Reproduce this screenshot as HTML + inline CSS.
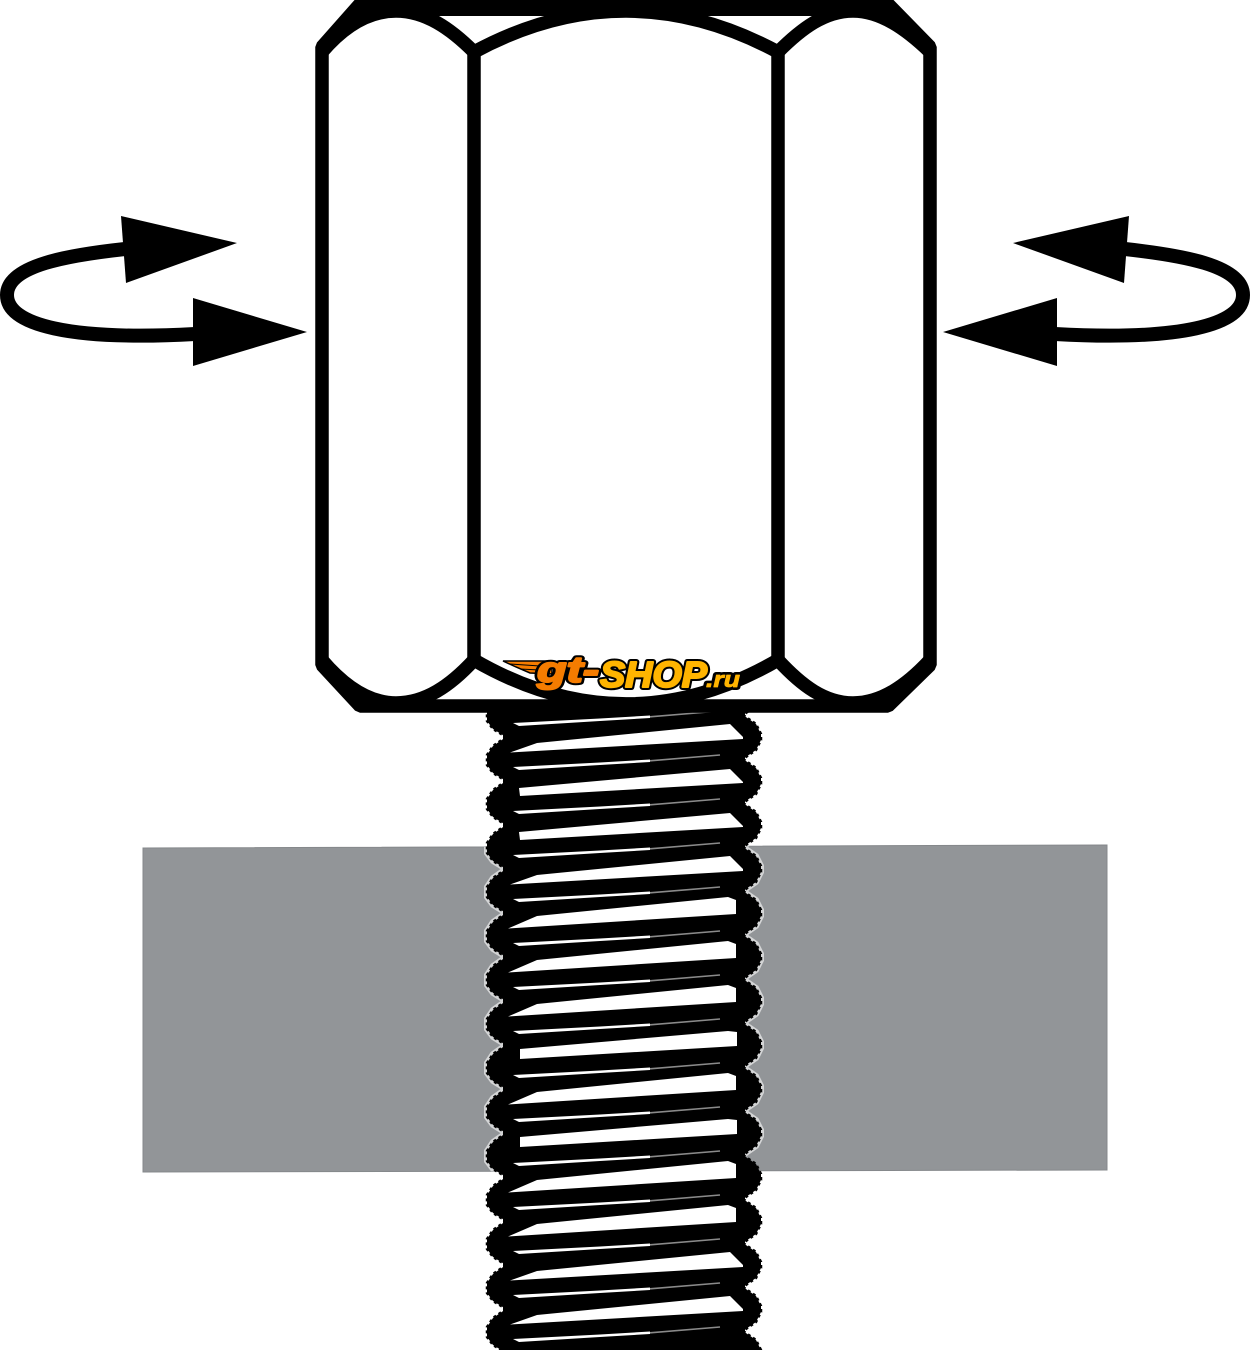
<!DOCTYPE html>
<html>
<head>
<meta charset="utf-8">
<style>
html,body{margin:0;padding:0;background:#fff;width:1251px;height:1350px;overflow:hidden}
svg{display:block}
</style>
</head>
<body>
<svg xmlns="http://www.w3.org/2000/svg" width="1251" height="1350" viewBox="0 0 1251 1350">
<defs>
  <path id="lb" d="M506 0L493 9 487 18 487 28 493 36 506 44Z"/>
  <path id="rb" d="M743 -22L756 -13 761 -3 761 3 756 13 743 22Z"/>
  <g id="body">
    <rect x="503" y="-1" width="242" height="46" fill="#000"/>
    <use href="#lb" fill="#000" stroke="#000" stroke-width="2.5" stroke-dasharray="3 3"/>
    <use href="#rb" fill="#000" stroke="#000" stroke-width="2.5" stroke-dasharray="3 3"/>
    <path d="M513 30L519 33 600 28 650 25 650 22.5 600 25.5Z" fill="#fff"/>
    <path d="M650 23.8L720 18" stroke="#8a8a8a" stroke-width="1.6" fill="none"/>
  </g>
  <g id="halo" fill="none" stroke="#d4d5d6" stroke-width="6">
    <use href="#lb"/>
    <use href="#rb"/>
  </g>
  <polygon id="tt" points="510,15.5 537,6 730,-13 743,0 743,2" fill="#fff"/>
  <polygon id="bt" points="519,7 730,-12 743,1 743,2 520,15" fill="#fff"/>
  <polygon id="tb" points="508,15.5 537,3 728,-16 736,-13 736,1" fill="#fff"/>
  <polygon id="bb" points="520,4 728,-14 737,-13 737,1 520,14" fill="#fff"/>
  <g id="arrow">
    <path d="M125 249C70 255 7 265 7 295C7 325 70 341 195 334" fill="none" stroke="#000" stroke-width="14"/>
    <polygon points="121,216 237,243 126,283" fill="#000"/>
    <polygon points="193,298 307,332 193,366" fill="#000"/>
  </g>
  <clipPath id="plate"><polygon points="143,848 1107,845 1107,1170 143,1172"/></clipPath>
</defs>

<rect width="1251" height="1350" fill="#fff"/>

<polygon points="143,848 1107,845 1107,1170 143,1172" fill="#929598" stroke="#85888b" stroke-width="1"/>

<g clip-path="url(#plate)">
  <use href="#halo" transform="translate(0,825)"/>
  <use href="#halo" transform="translate(0,869)"/>
  <use href="#halo" transform="translate(0,913)"/>
  <use href="#halo" transform="translate(0,957)"/>
  <use href="#halo" transform="translate(0,1001)"/>
  <use href="#halo" transform="translate(0,1045)"/>
  <use href="#halo" transform="translate(0,1089)"/>
  <use href="#halo" transform="translate(0,1133)"/>
</g>

<!-- thread -->
<g>
  <use href="#body" transform="translate(0,693)"/>
  <use href="#body" transform="translate(0,737)"/>
  <use href="#body" transform="translate(0,781)"/>
  <use href="#body" transform="translate(0,825)"/>
  <use href="#body" transform="translate(0,869)"/>
  <use href="#body" transform="translate(0,913)"/>
  <use href="#body" transform="translate(0,957)"/>
  <use href="#body" transform="translate(0,1001)"/>
  <use href="#body" transform="translate(0,1045)"/>
  <use href="#body" transform="translate(0,1089)"/>
  <use href="#body" transform="translate(0,1133)"/>
  <use href="#body" transform="translate(0,1177)"/>
  <use href="#body" transform="translate(0,1221)"/>
  <use href="#body" transform="translate(0,1265)"/>
  <use href="#body" transform="translate(0,1309)"/>
  <use href="#body" transform="translate(0,1353)"/>
  <use href="#tt" transform="translate(0,737)"/>
  <use href="#bt" transform="translate(0,781)"/>
  <use href="#bt" transform="translate(0,825)"/>
  <use href="#tt" transform="translate(0,869)"/>
  <use href="#tb" transform="translate(0,913)"/>
  <use href="#tb" transform="translate(0,957)"/>
  <use href="#tb" transform="translate(0,1001)"/>
  <use href="#bb" transform="translate(0,1045)"/>
  <use href="#tb" transform="translate(0,1089)"/>
  <use href="#bb" transform="translate(0,1133)"/>
  <use href="#tb" transform="translate(0,1177)"/>
  <use href="#tb" transform="translate(0,1221)"/>
  <use href="#tt" transform="translate(0,1265)"/>
  <use href="#tt" transform="translate(0,1309)"/>
</g>

<!-- nut -->
<path d="M360 6L888 6 930 47 930 665 888 706 360 706 322 665 322 47Z" fill="#fff"/>
<g fill="none" stroke="#000" stroke-width="13.5">
  <path d="M360 4L888 4 930 47 930 665 888 706 360 706 322 665 322 47Z" stroke-linejoin="bevel"/>
  <path d="M474 50V662M778 50V662"/>
  <path d="M474 52Q626 -30 778 52"/>
  <path d="M322 52C345 25 370 11 396 11C425 11 450 28 474 52"/>
  <path d="M778 52C802 28 825 11 853 11C880 11 905 28 930 52"/>
  <path d="M474 660Q626 748 778 660"/>
  <path d="M322 660C345 687 370 703 396 703C425 703 450 686 474 660"/>
  <path d="M778 660C802 686 825 703 853 703C880 703 905 687 930 660"/>
</g>
<rect x="360" y="0" width="528" height="16" fill="#000"/>
<rect x="360" y="700" width="528" height="12" fill="#000"/>

<!-- arrows -->
<use href="#arrow"/>
<use href="#arrow" transform="translate(1250,0) scale(-1,1)"/>

<!-- logo -->
<polygon points="503,661 552,661 552,674 530,673 516,667" fill="#f57c00" stroke="#000" stroke-width="1.5"/>
<path d="M510 664L540 666M520 669L540 670" stroke="#000" stroke-width="1" fill="none"/>
<g font-family="'Liberation Sans',sans-serif" font-weight="bold" font-style="italic" stroke-linejoin="round">
  <g stroke="#000" stroke-width="6" fill="#000">
    <text x="537" y="682" font-size="36" textLength="62" lengthAdjust="spacingAndGlyphs">gt-</text>
    <text x="600" y="687" font-size="36" textLength="107" lengthAdjust="spacingAndGlyphs">SHOP</text>
    <text x="706" y="687" font-size="22" textLength="34" lengthAdjust="spacingAndGlyphs">.ru</text>
  </g>
  <text x="537" y="682" font-size="36" textLength="62" lengthAdjust="spacingAndGlyphs" fill="#f57c00" stroke="#f57c00" stroke-width="2">gt-</text>
  <text x="600" y="687" font-size="36" textLength="107" lengthAdjust="spacingAndGlyphs" fill="#ffb400" stroke="#ffb400" stroke-width="2">SHOP</text>
  <text x="706" y="687" font-size="22" textLength="34" lengthAdjust="spacingAndGlyphs" fill="#ffb400" stroke="#ffb400" stroke-width="0.8">.ru</text>
</g>
</svg>
</body>
</html>
